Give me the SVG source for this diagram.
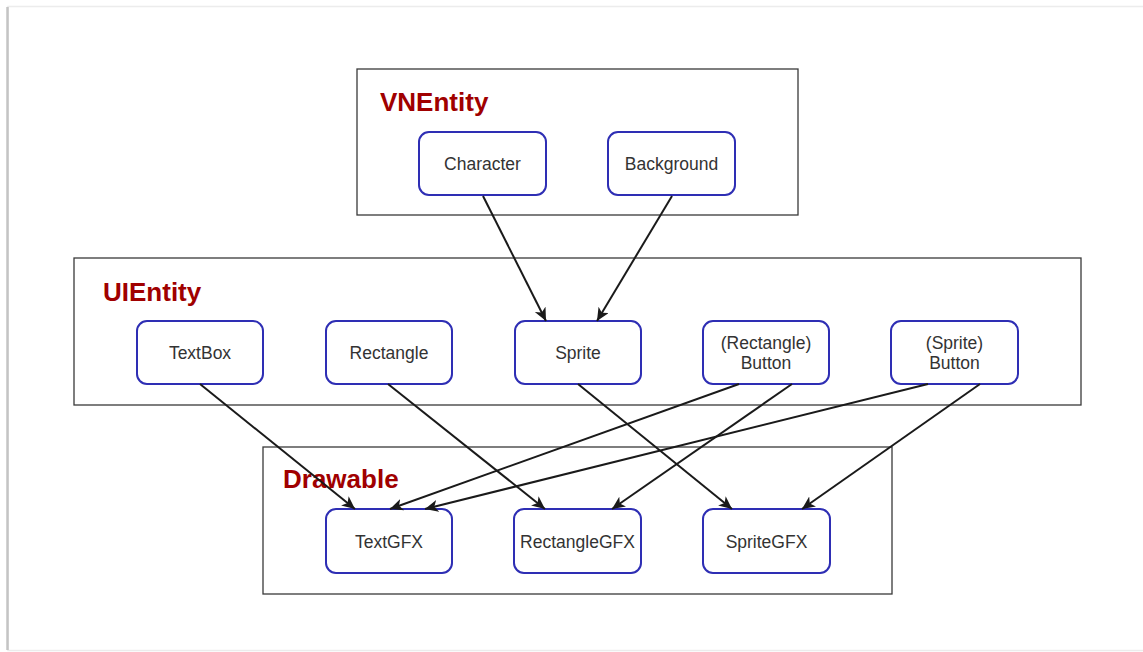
<svg xmlns="http://www.w3.org/2000/svg" width="1143" height="652" viewBox="0 0 1143 652">
  <defs>
    <style>
      .page { fill: #ffffff; stroke: #ececec; stroke-width: 1.5; }
      .page-edge { stroke: #c4c4c4; stroke-width: 2.5; fill: none; }
      .group { fill: #ffffff; stroke: #3a3a3a; stroke-width: 1.3; }
      .group-title { font-family: "Liberation Sans", Arial, sans-serif; font-weight: bold; font-size: 26px; fill: #a00000; }
      .node rect { fill: #ffffff; stroke: #2e2eb4; stroke-width: 2; }
      .node text { font-family: "Liberation Sans", Arial, sans-serif; font-size: 17.5px; fill: #333333; text-anchor: middle; }
      .edge { stroke: #1a1a1a; stroke-width: 2; fill: none; marker-end: url(#arrow); }
    </style>
    <marker id="arrow" markerUnits="userSpaceOnUse" markerWidth="16" markerHeight="14" refX="13" refY="6" orient="auto">
      <path d="M0,0 L13,6 L0,12 L3.5,6 Z" fill="#1a1a1a"/>
    </marker>
  </defs>

  <!-- page card -->
  <rect class="page" x="8" y="6.5" width="1145" height="644"/>
  <line class="page-edge" x1="7.5" y1="7" x2="7.5" y2="650"/>

  <!-- layer containers -->
  <g id="vnentity">
    <rect class="group" x="357" y="69" width="441" height="146"/>
    <text class="group-title" x="380" y="111">VNEntity</text>
  </g>
  <g id="uientity">
    <rect class="group" x="74" y="258" width="1007" height="147"/>
    <text class="group-title" x="103" y="301">UIEntity</text>
  </g>
  <g id="drawable">
    <rect class="group" x="263" y="447" width="629" height="147"/>
    <text class="group-title" x="283" y="488">Drawable</text>
  </g>

  <!-- VNEntity nodes -->
  <g id="character" class="node">
    <rect x="419" y="132" width="127" height="63" rx="10"/>
    <text x="482.5" y="170">Character</text>
  </g>
  <g id="background" class="node">
    <rect x="608" y="132" width="127" height="63" rx="10"/>
    <text x="671.5" y="170">Background</text>
  </g>

  <!-- UIEntity nodes -->
  <g id="textbox" class="node">
    <rect x="137" y="321" width="126" height="63" rx="10"/>
    <text x="200" y="358.5">TextBox</text>
  </g>
  <g id="rectangle" class="node">
    <rect x="326" y="321" width="126" height="63" rx="10"/>
    <text x="389" y="358.5">Rectangle</text>
  </g>
  <g id="sprite" class="node">
    <rect x="515" y="321" width="126" height="63" rx="10"/>
    <text x="578" y="358.5">Sprite</text>
  </g>
  <g id="rectangle-button" class="node">
    <rect x="703" y="321" width="126" height="63" rx="10"/>
    <text x="766" y="349">(Rectangle)</text>
    <text x="766" y="369">Button</text>
  </g>
  <g id="sprite-button" class="node">
    <rect x="891" y="321" width="127" height="63" rx="10"/>
    <text x="954.5" y="349">(Sprite)</text>
    <text x="954.5" y="369">Button</text>
  </g>

  <!-- Drawable nodes -->
  <g id="textgfx" class="node">
    <rect x="326" y="509" width="126" height="64" rx="10"/>
    <text x="389" y="547.5">TextGFX</text>
  </g>
  <g id="rectanglegfx" class="node">
    <rect x="514" y="509" width="127" height="64" rx="10"/>
    <text x="577.5" y="547.5">RectangleGFX</text>
  </g>
  <g id="spritegfx" class="node">
    <rect x="703" y="509" width="127" height="64" rx="10"/>
    <text x="766.5" y="547.5">SpriteGFX</text>
  </g>

  <!-- dependency connectors -->
  <g id="connectors">
    <line class="edge" x1="483" y1="196" x2="546" y2="321"/>
    <line class="edge" x1="672" y1="196" x2="597" y2="321"/>
    <line class="edge" x1="200" y1="384" x2="355" y2="509"/>
    <line class="edge" x1="388" y1="384" x2="545" y2="509"/>
    <line class="edge" x1="578" y1="384" x2="732" y2="509"/>
    <line class="edge" x1="739" y1="384" x2="390" y2="509"/>
    <line class="edge" x1="792" y1="384" x2="612" y2="509"/>
    <line class="edge" x1="928" y1="384" x2="425" y2="509"/>
    <line class="edge" x1="980" y1="384" x2="802" y2="509"/>
  </g>
</svg>
